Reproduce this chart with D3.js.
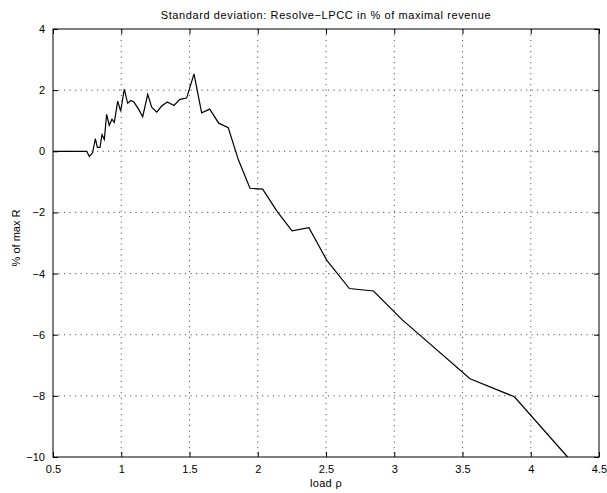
<!DOCTYPE html>
<html>
<head>
<meta charset="utf-8">
<script src="https://cdn.jsdelivr.net/npm/d3@7"></script>
<style>
  body { margin: 0; background: #fff; }
  text { font-family: "Liberation Sans", Arial, sans-serif; font-size: 11px; fill: #000; }
</style>
</head>
<body>
<div id="chart"></div>
<script>
// load rho vs. deviation (% of max R)
const loadValues = [0.5, 0.747, 0.766, 0.79, 0.81, 0.825, 0.844, 0.859, 0.876, 0.893, 0.912,
  0.932, 0.949, 0.974, 0.996, 1.022, 1.047, 1.071, 1.093, 1.128, 1.157, 1.194, 1.223, 1.26,
  1.296, 1.337, 1.386, 1.43, 1.479, 1.533, 1.589, 1.648, 1.714, 1.784, 1.858, 1.943, 2.036,
  2.139, 2.251, 2.375, 2.505, 2.671, 2.848, 3.055, 3.555, 3.88, 4.27];
const deviationValues = [0, 0, -0.17, -0.05, 0.41, 0.13, 0.13, 0.54, 0.39, 1.21, 0.85,
  1.05, 0.94, 1.64, 1.31, 2.03, 1.57, 1.66, 1.61, 1.37, 1.13, 1.86, 1.44, 1.28,
  1.48, 1.61, 1.50, 1.70, 1.74, 2.53, 1.26, 1.38, 0.92, 0.77, -0.28, -1.21, -1.24,
  -1.95, -2.60, -2.50, -3.56, -4.49, -4.57, -5.50, -7.44, -8.03, -10];
const xTicks = [0.5, 1, 1.5, 2, 2.5, 3, 3.5, 4, 4.5];
const yTicks = [-10, -8, -6, -4, -2, 0, 2, 4];

const width = 607, height = 493;
const margin = { top: 29, right: 8, bottom: 36, left: 53 };
const innerW = width - margin.left - margin.right;
const innerH = height - margin.top - margin.bottom;

const svg = d3.select('#chart').append('svg')
    .attr('width', width)
    .attr('height', height);

const g = svg.append('g')
    .attr('transform', `translate(${margin.left},${margin.top})`);

const x = d3.scaleLinear().domain([0.5, 4.5]).range([0, innerW]);
const y = d3.scaleLinear().domain([-10, 4]).range([innerH, 0]);

const fmt = (d) => String(d).replace('-', '\u2212');

// dotted grid
g.append('g').selectAll('line')
    .data(xTicks.slice(1, -1))
    .join('line')
    .attr('x1', (d) => x(d)).attr('x2', (d) => x(d))
    .attr('y1', 0).attr('y2', innerH)
    .attr('stroke', '#555').attr('stroke-width', 1)
    .attr('stroke-dasharray', '1.2,4.3');
g.append('g').selectAll('line')
    .data(yTicks.slice(1, -1))
    .join('line')
    .attr('x1', 0).attr('x2', innerW)
    .attr('y1', (d) => y(d)).attr('y2', (d) => y(d))
    .attr('stroke', '#555').attr('stroke-width', 1)
    .attr('stroke-dasharray', '1.2,4.3');

// axes with inward ticks on all four sides
const xAxis = g.append('g')
    .attr('transform', `translate(0,${innerH})`)
    .call(d3.axisBottom(x).tickValues(xTicks).tickSizeInner(-5).tickSizeOuter(0)
        .tickPadding(8).tickFormat(fmt));
const xTop = g.append('g')
    .call(d3.axisTop(x).tickValues(xTicks).tickSizeInner(-5).tickSizeOuter(0)
        .tickFormat(''));
const yAxis = g.append('g')
    .call(d3.axisLeft(y).tickValues(yTicks).tickSizeInner(-5).tickSizeOuter(0)
        .tickPadding(8).tickFormat(fmt));
const yRight = g.append('g')
    .attr('transform', `translate(${innerW},0)`)
    .call(d3.axisRight(y).tickValues(yTicks).tickSizeInner(-5).tickSizeOuter(0)
        .tickFormat(''));
[xAxis, xTop, yAxis, yRight].forEach((a) => {
  a.select('.domain').remove();
  a.selectAll('line').attr('stroke', '#000');
  a.selectAll('text').attr('font-size', 11).attr('font-family', '"Liberation Sans", Arial, sans-serif');
});
xAxis.selectAll('text').attr('dy', '0.71em');

g.append('rect')
    .attr('width', innerW).attr('height', innerH)
    .attr('fill', 'none').attr('stroke', '#000').attr('stroke-width', 1);

// data line
const points = loadValues.map((v, i) => [v, deviationValues[i]]);
g.append('path')
    .datum(points)
    .attr('fill', 'none')
    .attr('stroke', '#000')
    .attr('stroke-width', 1.2)
    .attr('d', d3.line().x((d) => x(d[0])).y((d) => y(d[1])));

// labels
svg.append('text')
    .attr('x', margin.left + innerW / 2).attr('y', 19)
    .attr('text-anchor', 'middle')
    .attr('letter-spacing', '0.6px')
    .text('Standard deviation: Resolve\u2212LPCC in % of maximal revenue');
svg.append('text')
    .attr('x', margin.left + innerW / 2).attr('y', 487)
    .attr('text-anchor', 'middle')
    .attr('letter-spacing', '0.3px')
    .text('load \u03c1');
svg.append('text')
    .attr('transform', `translate(20,${margin.top + innerH / 2 - 5}) rotate(-90)`)
    .attr('text-anchor', 'middle')
    .text('% of max R');
</script>
</body>
</html>
